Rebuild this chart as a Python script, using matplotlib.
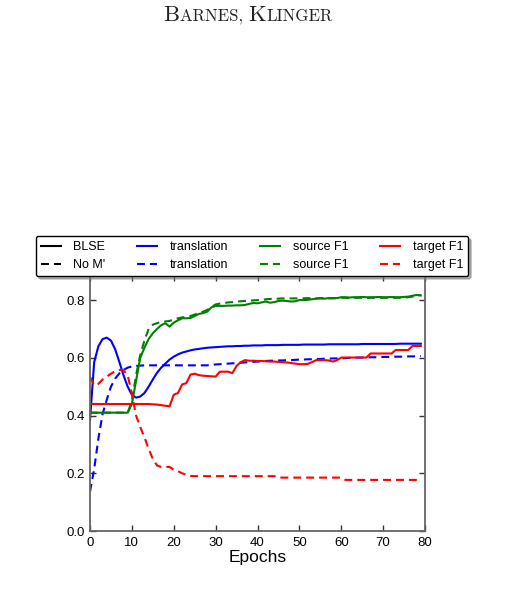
import matplotlib
matplotlib.use("Agg")
import matplotlib.pyplot as plt
from matplotlib.lines import Line2D
from matplotlib.offsetbox import TextArea, HPacker, AnchoredOffsetbox

# epochs 0..79
epochs = list(range(80))

blse_translation = [
    0.385, 0.585, 0.640, 0.665, 0.670, 0.660, 0.630, 0.586, 0.540, 0.500,
    0.472, 0.462, 0.466, 0.478, 0.500, 0.525, 0.548, 0.566, 0.580, 0.594,
    0.604, 0.612, 0.618, 0.622, 0.626, 0.629, 0.631, 0.633, 0.635, 0.636,
    0.637, 0.638, 0.639, 0.640, 0.640, 0.641, 0.641, 0.642, 0.642, 0.643,
    0.643, 0.643, 0.644, 0.644, 0.644, 0.644, 0.645, 0.645, 0.645, 0.645,
    0.645, 0.646, 0.646, 0.646, 0.646, 0.646, 0.646, 0.647, 0.647, 0.647,
    0.647, 0.647, 0.647, 0.647, 0.647, 0.648, 0.648, 0.648, 0.648, 0.648,
    0.648, 0.648, 0.648, 0.648, 0.649, 0.649, 0.649, 0.649, 0.649, 0.649,
]
nom_translation = [
    0.136, 0.215, 0.320, 0.405, 0.455, 0.500, 0.528, 0.546, 0.558, 0.566,
    0.570, 0.572, 0.573, 0.574, 0.574, 0.574, 0.574, 0.574, 0.574, 0.574,
    0.574, 0.574, 0.574, 0.574, 0.574, 0.574, 0.574, 0.574, 0.574, 0.575,
    0.577, 0.578, 0.579, 0.580, 0.581, 0.582, 0.583, 0.584, 0.585, 0.586,
    0.587, 0.588, 0.589, 0.590, 0.590, 0.591, 0.591, 0.592, 0.592, 0.593,
    0.594, 0.594, 0.595, 0.595, 0.596, 0.596, 0.597, 0.597, 0.598, 0.598,
    0.599, 0.599, 0.600, 0.600, 0.601, 0.601, 0.601, 0.602, 0.602, 0.602,
    0.603, 0.603, 0.603, 0.604, 0.604, 0.604, 0.605, 0.605, 0.605, 0.606,
]
blse_source = [
    0.410, 0.410, 0.410, 0.410, 0.410, 0.410, 0.410, 0.410, 0.410, 0.410,
    0.440, 0.520, 0.600, 0.635, 0.665, 0.685, 0.700, 0.713, 0.720, 0.708,
    0.722, 0.730, 0.737, 0.737, 0.738, 0.745, 0.752, 0.755, 0.760, 0.775,
    0.780, 0.780, 0.780, 0.781, 0.781, 0.782, 0.782, 0.783, 0.787, 0.790,
    0.789, 0.792, 0.795, 0.791, 0.793, 0.797, 0.798, 0.797, 0.795, 0.796,
    0.800, 0.800, 0.801, 0.803, 0.805, 0.806, 0.805, 0.807, 0.806, 0.807,
    0.810, 0.810, 0.809, 0.810, 0.810, 0.811, 0.810, 0.810, 0.810, 0.811,
    0.810, 0.810, 0.811, 0.810, 0.810, 0.811, 0.812, 0.815, 0.818, 0.816,
]
nom_source = [
    0.410, 0.410, 0.410, 0.410, 0.410, 0.410, 0.410, 0.410, 0.410, 0.410,
    0.450, 0.540, 0.610, 0.660, 0.700, 0.715, 0.720, 0.725, 0.726, 0.728,
    0.732, 0.737, 0.740, 0.742, 0.745, 0.750, 0.755, 0.760, 0.766, 0.776,
    0.785, 0.788, 0.790, 0.792, 0.793, 0.795, 0.796, 0.797, 0.798, 0.799,
    0.800, 0.801, 0.803, 0.804, 0.805, 0.805, 0.806, 0.805, 0.806, 0.806,
    0.806, 0.806, 0.807, 0.806, 0.806, 0.807, 0.807, 0.806, 0.807, 0.807,
    0.808, 0.808, 0.807, 0.808, 0.808, 0.808, 0.807, 0.808, 0.808, 0.808,
    0.808, 0.808, 0.808, 0.808, 0.808, 0.809, 0.810, 0.812, 0.816, 0.818,
]
blse_target = [
    0.440, 0.440, 0.440, 0.440, 0.440, 0.440, 0.440, 0.440, 0.440, 0.440,
    0.440, 0.440, 0.440, 0.440, 0.440, 0.439, 0.438, 0.436, 0.434, 0.432,
    0.472, 0.478, 0.508, 0.512, 0.542, 0.545, 0.540, 0.538, 0.537, 0.536,
    0.535, 0.552, 0.552, 0.552, 0.547, 0.572, 0.585, 0.592, 0.590, 0.590,
    0.589, 0.589, 0.588, 0.587, 0.587, 0.586, 0.585, 0.584, 0.582, 0.580,
    0.578, 0.578, 0.579, 0.585, 0.592, 0.592, 0.592, 0.591, 0.587, 0.592,
    0.601, 0.601, 0.601, 0.601, 0.601, 0.601, 0.601, 0.615, 0.615, 0.615,
    0.615, 0.615, 0.615, 0.627, 0.627, 0.627, 0.627, 0.641, 0.641, 0.641,
]
nom_target = [
    0.534, 0.505, 0.510, 0.525, 0.535, 0.545, 0.553, 0.558, 0.557, 0.540,
    0.475, 0.400, 0.360, 0.325, 0.285, 0.250, 0.227, 0.222, 0.222, 0.222,
    0.212, 0.207, 0.200, 0.195, 0.191, 0.190, 0.190, 0.190, 0.190, 0.190,
    0.190, 0.190, 0.190, 0.190, 0.190, 0.190, 0.190, 0.190, 0.190, 0.190,
    0.190, 0.190, 0.190, 0.190, 0.190, 0.185, 0.185, 0.185, 0.185, 0.185,
    0.185, 0.185, 0.185, 0.185, 0.185, 0.185, 0.185, 0.185, 0.185, 0.185,
    0.185, 0.177, 0.177, 0.177, 0.177, 0.177, 0.177, 0.177, 0.177, 0.177,
    0.177, 0.177, 0.177, 0.177, 0.177, 0.177, 0.177, 0.177, 0.177, 0.177,
]

legend_labels = ["BLSE", "No M'", "translation", "translation",
                 "source F1", "source F1", "target F1", "target F1"]

plt.rcParams['font.family'] = ['Liberation Sans', 'DejaVu Sans']

W, H = 508, 591
fig = plt.figure(figsize=(W / 100, H / 100), dpi=100)
ax = fig.add_axes([90 / W, 1 - 531 / H, 335 / W, 256 / H])

lw = 1.5
dash = (0, (3.8, 2.4))
ax.plot(epochs, blse_translation, color='#0000ff', lw=lw)
ax.plot(epochs, nom_translation, color='#0000ff', lw=lw, ls=dash)
ax.plot(epochs, blse_source, color='#008000', lw=lw)
ax.plot(epochs, nom_source, color='#008000', lw=lw, ls=dash)
ax.plot(epochs, blse_target, color='#ff0000', lw=lw)
ax.plot(epochs, nom_target, color='#ff0000', lw=lw, ls=dash)

ax.set_xlim(0, 80)
ax.set_ylim(0, 0.887)
ax.set_xticks(range(0, 81, 10))
ax.set_yticks([0.0, 0.2, 0.4, 0.6, 0.8])
ax.set_yticklabels(["0.0", "0.2", "0.4", "0.6", "0.8"])
ax.tick_params(direction='in', top=True, right=True, length=4, width=1,
               labelsize=9.5, pad=4, color='0.2')
for s in ax.spines.values():
    s.set_color('0.4')
    s.set_linewidth(1.3)
ax.set_xlabel("Epochs", fontsize=12.5, labelpad=1)

cols = ['black', 'black', '#0000ff', '#0000ff', '#008000', '#008000', '#ff0000', '#ff0000']
handles = []
for i, c in enumerate(cols):
    handles.append(Line2D([], [], color=c, lw=lw, ls='-' if i % 2 == 0 else dash))
leg = fig.legend(handles, legend_labels, ncol=4, loc='center',
                 bbox_to_anchor=(252 / W, 1 - 256 / H), fontsize=9,
                 handlelength=1.6, handletextpad=1.0, columnspacing=2.55,
                 fancybox=True, shadow={'color': '0.5', 'alpha': 0.6},
                 framealpha=1, borderpad=0.4)
leg.get_frame().set_edgecolor('black')
leg.get_frame().set_linewidth(1.0)

# running header in small caps
big = dict(family='cmr10', size=16.3, color='#222222')
small = dict(family='cmr10', size=12.1, color='#222222')
parts = [TextArea("B", textprops=big), TextArea("ARNES, ", textprops=small),
         TextArea("K", textprops=big), TextArea("LINGER", textprops=small)]
box = HPacker(children=parts, align='baseline', pad=0, sep=0)
anchored = AnchoredOffsetbox(loc='center', child=box, pad=0, borderpad=0, frameon=False,
                             bbox_to_anchor=(248 / W, 1 - 15 / H),
                             bbox_transform=fig.transFigure)
fig.add_artist(anchored)

fig.savefig("out.png", dpi=100)
